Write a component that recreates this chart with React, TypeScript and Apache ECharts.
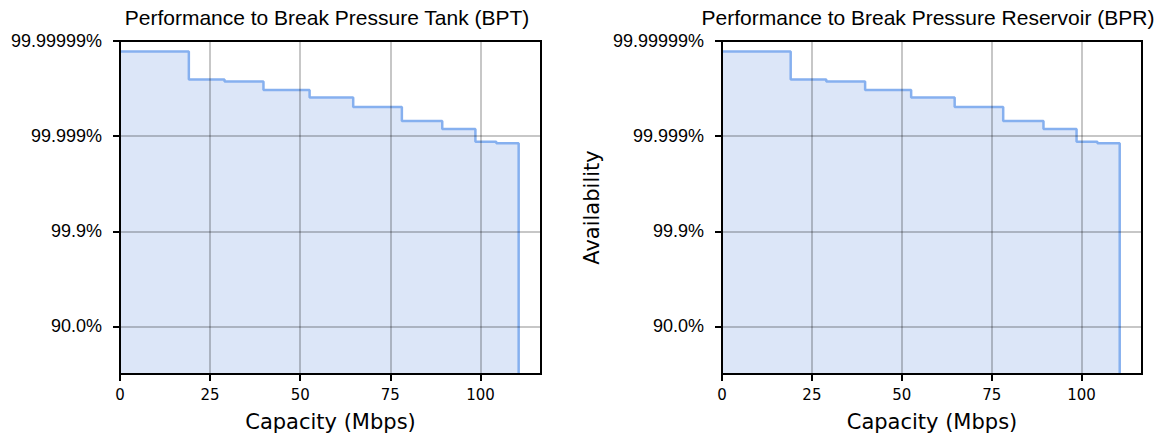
import React, { useEffect, useRef } from "react";
import * as echarts from "echarts";

// Capacity (Mbps) at which each availability step starts
const capacity = [0, 19.1, 29.0, 39.8, 52.6, 64.7, 78.2, 89.4, 98.6, 104.4, 110.6];
// Availability expressed as "number of nines" (-log10(1 - A))
const bptNines = [6.78, 6.19, 6.15, 5.97, 5.81, 5.61, 5.32, 5.15, 4.88, 4.85, 0];
const bprNines = [6.78, 6.19, 6.15, 5.97, 5.81, 5.61, 5.32, 5.15, 4.88, 4.85, 0];

const yTickValues = [1, 3, 5, 7];
const yTickLabels = ["90.0%", "99.9%", "99.999%", "99.99999%"];
const xTickValues = [0, 25, 50, 75, 100];

const titles = [
  "Performance to Break Pressure Tank (BPT)",
  "Performance to Break Pressure Reservoir (BPR)",
];

export default function App() {
  const ref = useRef<HTMLDivElement>(null);
  useEffect(() => {
    if (!ref.current) return;
    const chart = echarts.init(ref.current, null, { renderer: "svg" });
    const grids = [
      { left: 120, right: 630, top: 41, bottom: 60 },
      { left: 722, right: 29, top: 41, bottom: 60 },
    ];
    const centers = [322, 923];
    const seriesData = [bptNines, bprNines];
    const option: any = {
      animation: false,
      backgroundColor: "#fff",
      title: titles.map((t, i) => ({
        text: t,
        left: centers[i],
        top: 2,
        textAlign: "center",
        textStyle: {
          fontFamily: "Liberation Sans",
          fontSize: 21,
          fontWeight: "normal",
          color: "#000",
        },
      })),
      grid: grids.map((g) => ({
        ...g,
        show: true,
        borderColor: "#000",
        borderWidth: 2,
        backgroundColor: "transparent",
      })),
      xAxis: grids.map((_, i) => ({
        type: "value",
        gridIndex: i,
        min: 0,
        max: 116.8,
        z: 5,
        name: "Capacity (Mbps)",
        nameLocation: "middle",
        nameGap: 37,
        nameTextStyle: { fontFamily: "DejaVu Sans", fontSize: 21, color: "#000" },
        axisLine: { show: true, lineStyle: { color: "#000", width: 2 } },
        axisTick: {
          show: true,
          customValues: xTickValues,
          length: 7,
          lineStyle: { color: "#000", width: 2 },
        },
        axisLabel: {
          customValues: xTickValues,
          fontFamily: "DejaVu Sans",
          fontSize: 15,
          color: "#000",
          margin: 13,
        },
        splitLine: { show: true, lineStyle: { color: "rgba(0,0,0,0.22)", width: 2 } },
      })),
      yAxis: grids.map((_, i) => ({
        type: "value",
        gridIndex: i,
        min: 0,
        max: 7,
        z: 5,
        name: i === 1 ? "Availability" : "",
        nameLocation: "middle",
        nameGap: 120,
        nameTextStyle: { fontFamily: "DejaVu Sans", fontSize: 21, color: "#000" },
        axisLine: { show: true, lineStyle: { color: "#000", width: 2 } },
        axisTick: {
          show: true,
          customValues: yTickValues,
          length: 7,
          lineStyle: { color: "#000", width: 2 },
        },
        axisLabel: {
          customValues: yTickValues,
          fontFamily: "Liberation Sans",
          fontSize: 18,
          color: "#000",
          margin: 18,
          formatter: (v: number) => {
            const k = yTickValues.indexOf(Math.round(v));
            return k >= 0 ? yTickLabels[k] : "";
          },
        },
        splitLine: { show: true, lineStyle: { color: "rgba(0,0,0,0.22)", width: 2 } },
      })),
      series: seriesData.map((vals, i) => ({
        type: "line",
        xAxisIndex: i,
        yAxisIndex: i,
        step: "end",
        showSymbol: false,
        symbol: "none",
        data: capacity.map((c, k) => [c, vals[k]]),
        lineStyle: { color: "#86b0ef", width: 2.5 },
        areaStyle: { color: "#dce6f8", opacity: 1, origin: "start" },
        z: 2,
      })),
    };
    chart.setOption(option);
    return () => chart.dispose();
  }, []);
  return (
    <div
      ref={ref}
      style={{ position: "absolute", left: 0, top: 0, width: 1171, height: 437 }}
    />
  );
}
